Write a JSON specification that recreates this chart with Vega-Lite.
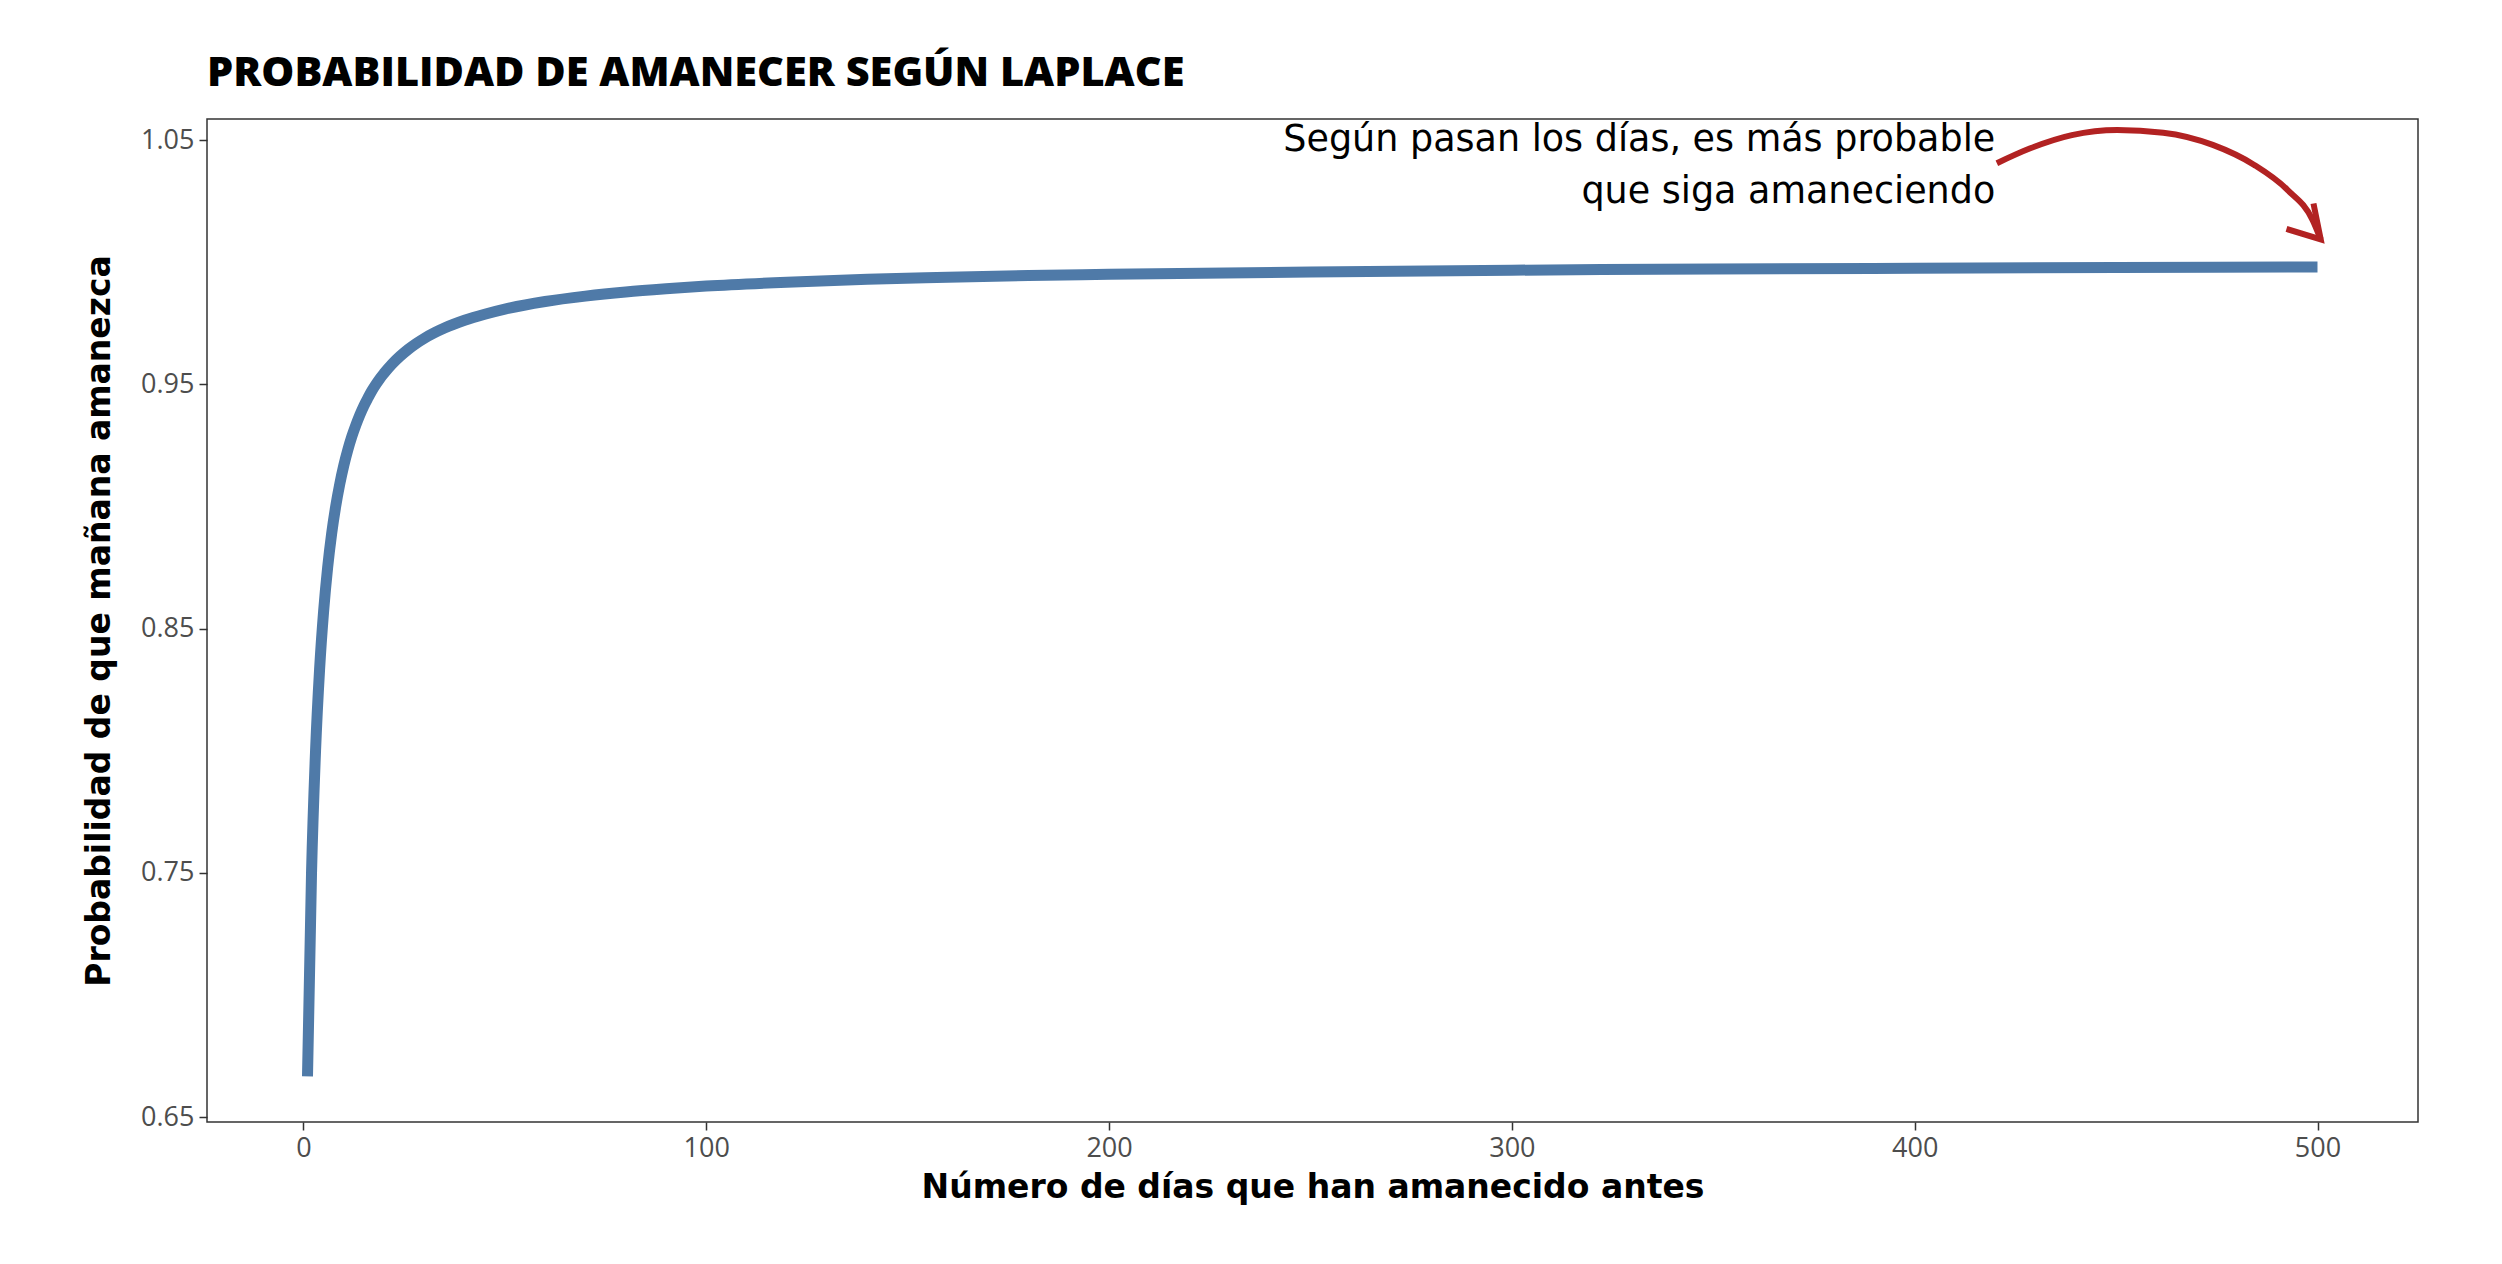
{
  "$schema": "https://vega.github.io/schema/vega-lite/v6.json",
  "width": 2211,
  "height": 1003,
  "autosize": {"type": "none"},
  "padding": {"left": 207, "top": 119, "right": 84, "bottom": 142},
  "background": "white",
  "title": {
    "text": "PROBABILIDAD DE AMANECER SEGÚN LAPLACE",
    "anchor": "start",
    "frame": "group",
    "font": "Open Sans",
    "fontWeight": 800,
    "fontSize": 41.5,
    "color": "#000000",
    "baseline": "alphabetic",
    "offset": -10
  },
  "config": {
    "view": {"stroke": "#333333", "strokeWidth": 1.5},
    "axis": {
      "grid": false,
      "domain": false,
      "tickColor": "#333333",
      "tickSize": 8,
      "tickWidth": 1.5,
      "labelFont": "Open Sans",
      "labelFontSize": 27,
      "labelColor": "#4d4d4d",
      "labelPadding": 5,
      "titleFont": "DejaVu Sans",
      "titleFontWeight": "bold",
      "titleFontSize": 33,
      "titleColor": "#000000"
    }
  },
  "datasets": {
    "laplace": [
      {"dias": 1, "prob": 0.6667},
      {"dias": 2, "prob": 0.75},
      {"dias": 3, "prob": 0.8},
      {"dias": 4, "prob": 0.8333},
      {"dias": 5, "prob": 0.8571},
      {"dias": 6, "prob": 0.875},
      {"dias": 7, "prob": 0.8889},
      {"dias": 8, "prob": 0.9},
      {"dias": 9, "prob": 0.9091},
      {"dias": 10, "prob": 0.9167},
      {"dias": 11, "prob": 0.9231},
      {"dias": 12, "prob": 0.9286},
      {"dias": 13, "prob": 0.9333},
      {"dias": 14, "prob": 0.9375},
      {"dias": 15, "prob": 0.9412},
      {"dias": 16, "prob": 0.9444},
      {"dias": 17, "prob": 0.9474},
      {"dias": 18, "prob": 0.95},
      {"dias": 19, "prob": 0.9524},
      {"dias": 20, "prob": 0.9545},
      {"dias": 22, "prob": 0.9583},
      {"dias": 24, "prob": 0.9615},
      {"dias": 26, "prob": 0.9643},
      {"dias": 28, "prob": 0.9667},
      {"dias": 30, "prob": 0.9688},
      {"dias": 35, "prob": 0.973},
      {"dias": 40, "prob": 0.9762},
      {"dias": 45, "prob": 0.9787},
      {"dias": 50, "prob": 0.9808},
      {"dias": 60, "prob": 0.9839},
      {"dias": 70, "prob": 0.9861},
      {"dias": 80, "prob": 0.9878},
      {"dias": 90, "prob": 0.9891},
      {"dias": 100, "prob": 0.9902},
      {"dias": 120, "prob": 0.9918},
      {"dias": 140, "prob": 0.993},
      {"dias": 160, "prob": 0.9938},
      {"dias": 180, "prob": 0.9945},
      {"dias": 200, "prob": 0.995},
      {"dias": 250, "prob": 0.996},
      {"dias": 300, "prob": 0.9967},
      {"dias": 350, "prob": 0.9972},
      {"dias": 400, "prob": 0.9975},
      {"dias": 450, "prob": 0.9978},
      {"dias": 500, "prob": 0.998}
    ],
    "curva": [
      {"orden": 1, "x": 420.4, "y": 1.0405},
      {"orden": 2, "x": 428.7, "y": 1.0466},
      {"orden": 3, "x": 439.0, "y": 1.052},
      {"orden": 4, "x": 450.3, "y": 1.0541},
      {"orden": 5, "x": 461.7, "y": 1.053},
      {"orden": 6, "x": 474.0, "y": 1.048},
      {"orden": 7, "x": 484.3, "y": 1.0398},
      {"orden": 8, "x": 492.6, "y": 1.0295},
      {"orden": 9, "x": 498.8, "y": 1.0172},
      {"orden": 10, "x": 500.8, "y": 1.0093}
    ],
    "punta": [
      {"orden": 1, "x": 492.3, "y": 1.0136},
      {"orden": 2, "x": 500.8, "y": 1.0093},
      {"orden": 3, "x": 499.0, "y": 1.0240}
    ],
    "nota": [
      {"dias": 420, "prob": 1.0455, "texto": "Según pasan los días, es más probable\nque siga amaneciendo"}
    ]
  },
  "layer": [
    {
      "data": {"name": "laplace"},
      "mark": {"type": "line", "color": "#4f7aa8", "strokeWidth": 11, "strokeCap": "butt", "interpolate": "monotone"},
      "encoding": {
        "x": {
          "field": "dias",
          "type": "quantitative",
          "title": "Número de días que han amanecido antes",
          "scale": {"domain": [-23.95, 524.95], "nice": false, "zero": false},
          "axis": {"values": [0, 100, 200, 300, 400, 500], "titlePadding": 10}
        },
        "y": {
          "field": "prob",
          "type": "quantitative",
          "title": "Probabilidad de que mañana amanezca",
          "scale": {"domain": [0.648, 1.0586], "nice": false, "zero": false},
          "axis": {"values": [0.65, 0.75, 0.85, 0.95, 1.05], "format": ".2f", "titlePadding": 24}
        }
      }
    },
    {
      "data": {"name": "curva"},
      "mark": {"type": "line", "color": "#b22222", "strokeWidth": 6, "interpolate": "monotone", "strokeCap": "butt"},
      "encoding": {
        "x": {"field": "x", "type": "quantitative"},
        "y": {"field": "y", "type": "quantitative"},
        "order": {"field": "orden"}
      }
    },
    {
      "data": {"name": "punta"},
      "mark": {"type": "line", "color": "#b22222", "strokeWidth": 6, "strokeCap": "butt", "strokeJoin": "miter"},
      "encoding": {
        "x": {"field": "x", "type": "quantitative"},
        "y": {"field": "y", "type": "quantitative"},
        "order": {"field": "orden"}
      }
    },
    {
      "data": {"name": "nota"},
      "mark": {
        "type": "text",
        "align": "right",
        "baseline": "alphabetic",
        "font": "DejaVu Sans",
        "fontSize": 36.5,
        "lineHeight": 52,
        "lineBreak": "\n",
        "color": "#000000"
      },
      "encoding": {
        "x": {"field": "dias", "type": "quantitative"},
        "y": {"field": "prob", "type": "quantitative"},
        "text": {"field": "texto"}
      }
    }
  ]
}
